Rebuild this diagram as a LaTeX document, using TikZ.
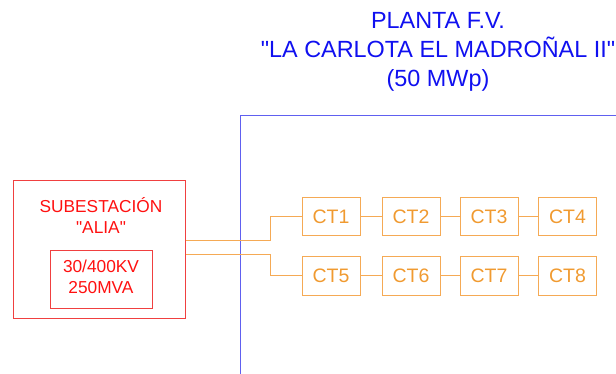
\documentclass[tikz,border=0pt]{standalone}
\usepackage{fontspec}
\setmainfont{Liberation Sans}[Ligatures=TeXOff]
\definecolor{bluetxt}{HTML}{1010F0}
\definecolor{blueln}{HTML}{6060F0}
\definecolor{redtxt}{HTML}{FF1010}
\definecolor{redln}{HTML}{F04040}
\definecolor{orgtxt}{HTML}{F09A30}
\definecolor{orgln}{HTML}{F5AA55}
\begin{document}
\begin{tikzpicture}[x=1pt,y=-1pt,
  ctbox/.style={draw=orgln,line width=1pt,minimum width=58pt,minimum height=38.5pt,inner sep=0pt,text=orgtxt,font=\fontsize{19.5}{22}\selectfont},
  orgwire/.style={draw=orgln,line width=1pt},
  redbox/.style={draw=redln,line width=1pt,inner sep=0pt},
  redtext/.style={text=redtxt,font=\fontsize{17.3}{20}\selectfont,inner sep=0pt,align=center},
  bluetext/.style={text=bluetxt,font=\fontsize{23.4}{29}\selectfont,align=center,inner sep=0pt}]
\useasboundingbox (0,0) rectangle (616,374);
% plant boundary
\coordinate (pb1) at (240,380);
\coordinate (pb2) at (240,115.5);
\coordinate (pb3) at (620,115.5);
\draw[blueln,line width=1pt] (pb1) -- (pb2) -- (pb3);
% title
\node[bluetext] (title) at (438,52) {PLANTA F.V.\\"LA CARLOTA EL MADROÑAL II"\\(50 MWp)};
% substation
\node[redbox,minimum width=172pt,minimum height=137pt] (sub) at (99,249.5) {};
\node[redtext] (subt) at (101,215) {SUBESTACIÓN\\[1pt]"ALIA"};
\node[redbox,minimum width=102pt,minimum height=57pt] (trf) at (101,279.5) {};
\node[redtext] (trft) at (101,277) {30/400KV\\[1pt]250MVA};
% CTs
\node[ctbox] (ct1) at (331,216.5) {CT1};
\node[ctbox] (ct2) at (411,216.5) {CT2};
\node[ctbox] (ct3) at (489,216.5) {CT3};
\node[ctbox] (ct4) at (567.5,216.5) {CT4};
\node[ctbox] (ct5) at (331,276) {CT5};
\node[ctbox] (ct6) at (411,276) {CT6};
\node[ctbox] (ct7) at (489,276) {CT7};
\node[ctbox] (ct8) at (567.5,276) {CT8};
\draw[orgwire] (ct1) -- (ct2);
\draw[orgwire] (ct2) -- (ct3);
\draw[orgwire] (ct3) -- (ct4);
\draw[orgwire] (ct5) -- (ct6);
\draw[orgwire] (ct6) -- (ct7);
\draw[orgwire] (ct7) -- (ct8);
\draw[orgwire] (sub.east |- 0,240.5) -- (270,240.5) |- (ct1.west);
\draw[orgwire] (sub.east |- 0,255) -- (270,255) |- (ct5.west);
\end{tikzpicture}
\end{document}
